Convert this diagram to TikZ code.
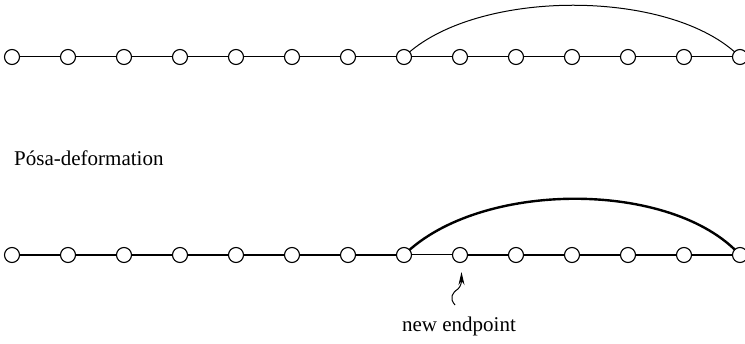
\documentclass[tikz,border=0pt]{standalone}
\usepackage{fontspec}
\setmainfont{Liberation Serif}
\usetikzlibrary{arrows.meta}
\tikzset{
  vtx/.style={circle,draw,fill=white,minimum size=15pt,inner sep=0pt,line width=1.1pt},
  thinedge/.style={line width=1pt},
  thickedge/.style={line width=2.4pt},
  lbl/.style={font=\fontsize{21}{25}\selectfont,inner sep=0pt}
}
\begin{document}
\begin{tikzpicture}[x=1pt,y=-1pt]
\useasboundingbox (0,0) rectangle (745,344);
\foreach \i in {1,...,14}{
  \coordinate (pa\i) at ({12+(\i-1)*56},57);
  \coordinate (pb\i) at ({12+(\i-1)*56},255);
}
% top row
\foreach \i in {1,...,13}{
  \pgfmathtruncatemacro{\j}{\i+1}
  \draw[thinedge] (pa\i) -- (pa\j);
}
\draw[thinedge] (pa8) .. controls (475,-12) and (672,-12) .. (pa14);
\foreach \i in {1,...,14}{ \node[vtx] (a\i) at (pa\i) {}; }
% bottom row
\foreach \i in {1,...,7,9,10,11,12,13}{
  \pgfmathtruncatemacro{\j}{\i+1}
  \draw[thickedge] (pb\i) -- (pb\j);
}
\draw[thinedge] (pb8) -- (pb9);
\draw[thickedge] (pb8) .. controls (480,180) and (672,180) .. (pb14);
\foreach \i in {1,...,14}{ \node[vtx] (b\i) at (pb\i) {}; }
% labels
\node[lbl,anchor=base west] (title) at (14,166) {Pósa-deformation};
\node[lbl,anchor=base] (ne) at (459,332) {new endpoint};
\coordinate (tail) at (455,305);
\coordinate (tip) at (461.5,272);
\draw[line width=1pt,-{Stealth[length=13pt,width=6pt]}] (tail) .. controls (449,298) and (452,293) .. (458,289) .. controls (461,286) and (461.5,282) .. (tip);
\end{tikzpicture}
\end{document}
